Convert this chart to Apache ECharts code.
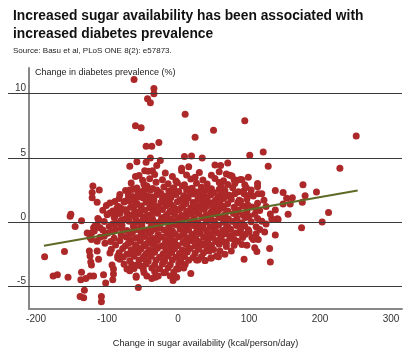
<!DOCTYPE html>
<html>
<head>
    <meta charset="utf-8" />
    <title>sugar vs diabetes</title>
    <script src="https://cdn.jsdelivr.net/npm/echarts@6/dist/echarts.min.js"></script>
</head>
<body style="margin:0">
    <div id="main" style="width:409px;height:353px;"></div>
    <script type="text/javascript">
        // axis ticks
        var xTicks = [-200, -100, 0, 100, 200, 300];
        var yTicks = [-5, 0, 5, 10];

        // fitted line end points
        var trendX = [-189, 253];
        var trendY = [-1.85, 2.46];

        // points read one by one (outside the dense cloud)
        var outerPoints = [
            [-62, 11.1], [-34, 10.4], [-34, 10.0], [-43, 9.6], [-39, 9.3], [10, 8.4], [-60, 7.5], [-52, 7.35],
            [24, 6.6], [-45, 5.9], [-37, 5.9], [-27, 6.2], [9, 5.1], [19, 5.15], [34, 5.0], [-39, 5.0],
            [-58, 4.7], [-45, 4.65], [-25, 4.8], [-68, 4.35], [-30, 4.4], [-47, 4.0], [-36, 4.0], [-60, 3.55],
            [5, 4.2], [15, 4.3],
            [-120, 2.8], [-111, 2.5], [-121, 2.3], [-121, 1.9], [-114, 1.55], [-101, 1.3], [-82, 2.15], [-89, 1.6],
            [-74, 1.65], [-68, 2.5], [-60, 2.55], [-64, 2.0], [-44, 2.8],
            [94, 7.9], [50, 7.15], [251, 6.7], [101, 5.2], [120, 5.45], [127, 4.35], [228, 4.2], [52, 4.45],
            [60, 4.4], [70, 4.6], [176, 2.9], [195, 2.35], [137, 2.45], [148, 2.3], [153, 1.85], [161, 1.9],
            [179, 2.05], [175, 1.55], [90, 3.3], [99, 3.5], [94, 2.9], [112, 3.0], [112, 2.75], [79, 3.3],
            [68, 3.75], [73, 3.65], [93, 2.2], [103, 2.5], [118, 2.2], [121, 1.7], [86, 1.7], [83, 3.25],
            [92, 2.4], [101, 2.1], [113, 2.2], [158, 1.4], [148, 1.4], [137, 0.95], [140, 0.25], [155, 0.6],
            [132, 0.25], [124, -0.15], [212, 0.75], [203, 0.0], [174, -0.45],
            [93, -2.9], [130, -3.1], [129, -2.05], [108, -2.0], [111, -2.3], [97, -1.8], [75, -2.25], [66, -2.5],
            [57, -2.7], [46, -2.8], [38, -3.0], [28, -2.95], [79, -1.35], [137, -1.0], [122, -0.77], [141, 0.2],
            [133, 0.2], [113, -1.35], [104, -1.2], [87, -0.85], [99, -0.6], [90, -1.75], [106, -1.35],
            [-188, -2.7], [-160, -2.3], [-176, -4.2], [-170, -4.1], [-155, -4.3], [-136, -3.9], [-137, -4.5], [-130, -4.4],
            [-124, -4.2], [-119, -4.2], [-132, -5.3], [-138, -5.8], [-133, -5.9], [-108, -6.2], [-145, -0.35], [-105, -4.1],
            [-102, -4.75], [-92, -4.5], [-91, -4.05], [-93, -3.35], [-91, -3.65], [-122, -3.35], [-123, -3.1], [-112, -2.9],
            [-124, -2.65], [-114, -2.25], [-125, -2.25], [-103, -1.65], [-114, -1.5], [-122, -1.35], [-122, -0.85], [-119, -0.45],
            [-104, -1.1], [-96, -2.4], [-85, -2.65], [-82, -2.9], [-68, -3.8], [-59, -4.2], [-56, -5.1], [-65, -3.3],
            [-53, -3.4], [-72, -2.5], [-60, -2.1],
            [-151, 0.6], [-152, 0.45], [-136, 0.1], [-128, -0.85], [-124, -1.2], [-118, -0.7], [-114, -0.2], [-112, 0.2],
            [-110, -0.45], [-85, -2.8], [-108, -5.8], [-59, -4.3], [-44, -4.2], [-32, -4.3], [-49, -3.65], [-72, -3.65],
            [-65, -3.4], [-7, -4.3], [-11, -4.2], [18, -4.0], [-86, 1.1], [-89, 0.45], [-96, 0.7], [-72, 0.7],
            [-2, -4.3], [-7, -4.55], [26, -2.95], [38, -3.0], [47, -2.8], [54, -2.65], [59, -2.25], [68, -1.9],
            [76, -1.25], [10, -3.3], [0, -3.65], [-18, -3.9], [-28, -4.2], [-37, -4.4]
        ];

        // dense cloud, read band by band
        var corePoints = [
            [-42, 3.95], [-18, 3.82], [5, 4.0], [30, 3.86], [58, 3.92],
            [-55, 3.62], [-33, 3.7], [-8, 3.55], [12, 3.66], [24, 3.5], [47, 3.64], [76, 3.58],
            [-50, 3.25], [-40, 3.38], [-22, 3.3], [-3, 3.2], [18, 3.36], [35, 3.27], [52, 3.4], [64, 3.22], [88, 3.32],
            [-66, 3.05], [-48, 2.94], [-31, 3.1], [-14, 2.98], [-1, 3.06], [9, 2.9], [26, 3.03], [41, 2.96], [58, 3.08], [70, 2.92], [80, 3.0],
            [-58, 2.66], [-44, 2.78], [-36, 2.62], [-20, 2.74], [-6, 2.68], [6, 2.8], [20, 2.64], [33, 2.72], [47, 2.6], [61, 2.76], [77, 2.67], [96, 2.7],
            [-74, 2.45], [-52, 2.36], [-39, 2.48], [-27, 2.33], [-13, 2.42], [1, 2.38], [12, 2.5], [27, 2.35], [38, 2.44], [50, 2.3], [66, 2.46], [85, 2.37],
            [-70, 2.05], [-56, 2.16], [-43, 2.02], [-30, 2.12], [-18, 2.0], [-3, 2.14], [8, 2.06], [22, 2.18], [35, 2.03], [46, 2.11], [56, 1.98], [72, 2.09], [80, 2.2], [106, 2.04],
            [-83, 1.84], [-62, 1.76], [-49, 1.88], [-34, 1.72], [-22, 1.82], [-10, 1.9], [3, 1.74], [14, 1.85], [28, 1.78], [40, 1.86], [53, 1.7], [64, 1.83], [75, 1.77], [97, 1.8],
            [-96, 1.48], [-76, 1.56], [-58, 1.44], [-45, 1.55], [-36, 1.42], [-24, 1.52], [-12, 1.46], [-1, 1.58], [11, 1.45], [21, 1.53], [33, 1.4], [45, 1.5], [59, 1.57], [70, 1.43], [84, 1.51], [112, 1.47],
            [-84, 1.22], [-67, 1.15], [-52, 1.26], [-40, 1.12], [-28, 1.2], [-17, 1.28], [-6, 1.14], [7, 1.24], [18, 1.1], [30, 1.19], [41, 1.27], [50, 1.13], [63, 1.23], [79, 1.16], [91, 1.25], [104, 1.18], [124, 1.21],
            [-106, 0.92], [-92, 0.86], [-74, 0.96], [-61, 0.84], [-47, 0.93], [-34, 0.88], [-22, 0.98], [-11, 0.85], [0, 0.94], [12, 0.82], [25, 0.9], [37, 0.97], [47, 0.83], [57, 0.91], [70, 0.87], [85, 0.95], [97, 0.84], [115, 0.9],
            [-100, 0.58], [-82, 0.66], [-66, 0.54], [-54, 0.62], [-40, 0.56], [-29, 0.68], [-16, 0.57], [-5, 0.64], [5, 0.52], [17, 0.61], [29, 0.67], [42, 0.55], [54, 0.63], [66, 0.58], [78, 0.66], [92, 0.53], [108, 0.6], [130, 0.62],
            [-113, 0.28], [-90, 0.35], [-75, 0.24], [-60, 0.32], [-48, 0.38], [-36, 0.26], [-23, 0.33], [-10, 0.22], [1, 0.31], [11, 0.37], [23, 0.25], [34, 0.34], [46, 0.27], [58, 0.36], [71, 0.23], [83, 0.3], [95, 0.35], [112, 0.28],
            [-104, 0.04], [-86, -0.05], [-69, 0.06], [-55, -0.03], [-42, 0.08], [-30, -0.06], [-18, 0.02], [-6, 0.09], [6, -0.04], [17, 0.05], [28, -0.08], [40, 0.03], [51, 0.07], [64, -0.02], [77, 0.05], [90, -0.06], [103, 0.02], [118, 0.06],
            [-117, -0.28], [-97, -0.35], [-79, -0.24], [-63, -0.32], [-51, -0.22], [-38, -0.37], [-26, -0.27], [-13, -0.33], [-1, -0.23], [10, -0.36], [22, -0.26], [35, -0.31], [45, -0.38], [57, -0.25], [70, -0.34], [82, -0.27], [94, -0.3], [110, -0.36],
            [-106, -0.62], [-88, -0.55], [-72, -0.66], [-58, -0.57], [-45, -0.64], [-33, -0.53], [-20, -0.61], [-8, -0.68], [3, -0.56], [15, -0.63], [27, -0.54], [40, -0.67], [52, -0.58], [63, -0.65], [74, -0.55], [88, -0.62], [115, -0.58],
            [-99, -0.88], [-80, -0.95], [-66, -0.86], [-52, -0.93], [-40, -0.84], [-28, -0.97], [-15, -0.87], [-4, -0.92], [8, -0.85], [20, -0.96], [31, -0.89], [43, -0.94], [56, -0.83], [68, -0.91], [82, -0.86], [95, -0.95], [110, -0.9],
            [-110, -1.18], [-90, -1.25], [-73, -1.16], [-59, -1.23], [-47, -1.13], [-35, -1.27], [-22, -1.19], [-10, -1.24], [1, -1.14], [13, -1.22], [25, -1.28], [36, -1.17], [49, -1.21], [61, -1.15], [73, -1.26], [91, -1.2],
            [-95, -1.52], [-82, -1.45], [-67, -1.55], [-53, -1.47], [-41, -1.57], [-29, -1.44], [-17, -1.53], [-5, -1.48], [7, -1.58], [18, -1.46], [30, -1.54], [42, -1.43], [53, -1.51], [66, -1.56], [84, -1.49],
            [-88, -1.78], [-74, -1.85], [-60, -1.76], [-48, -1.84], [-35, -1.74], [-23, -1.87], [-11, -1.77], [0, -1.83], [12, -1.75], [24, -1.86], [35, -1.79], [47, -1.82], [58, -1.73], [79, -1.8],
            [-94, -2.12], [-78, -2.05], [-66, -2.15], [-52, -2.07], [-41, -2.16], [-29, -2.04], [-17, -2.13], [-5, -2.08], [6, -2.17], [17, -2.06], [29, -2.11], [41, -2.03], [50, -2.14],
            [-83, -2.38], [-68, -2.45], [-56, -2.36], [-44, -2.43], [-33, -2.35], [-21, -2.47], [-9, -2.37], [2, -2.44], [13, -2.34], [24, -2.42], [36, -2.39],
            [-77, -2.72], [-62, -2.66], [-49, -2.75], [-38, -2.67], [-26, -2.74], [-14, -2.65], [-3, -2.73], [9, -2.68], [21, -2.76], [33, -2.7],
            [-68, -3.02], [-55, -2.95], [-42, -3.06], [-31, -2.97], [-19, -3.04], [-8, -2.96], [4, -3.05], [15, -2.98],
            [-76, -3.28], [-58, -3.34], [-45, -3.26], [-33, -3.35], [-22, -3.27], [-11, -3.32], [1, -3.25],
            [-62, -3.62], [-37, -3.57], [-26, -3.64], [-14, -3.56], [-2, -3.63], [8, -3.58],
            [-48, -3.92], [-33, -3.86], [-20, -3.95], [-6, -3.88]
        ];

        // extra points filling the gaps in the thickest part of the cloud
        var coreFill = [
            [-64, 2.55], [-47, 2.55], [-30, 2.5], [-8, 2.55], [16, 2.57], [42, 2.52], [58, 2.55],
            [-48, 2.25], [-24, 2.22], [-8, 2.28], [18, 2.25], [30, 2.27], [60, 2.24],
            [-55, 1.95], [-37, 1.96], [-12, 1.95], [14, 1.97], [41, 1.94], [66, 1.96],
            [-68, 1.65], [-42, 1.66], [-17, 1.64], [6, 1.66], [36, 1.63], [52, 1.62], [88, 1.65],
            [-60, 1.35], [-34, 1.33], [-10, 1.36], [24, 1.34], [57, 1.35], [98, 1.35],
            [-80, 1.05], [-52, 1.06], [-28, 1.03], [3, 1.05], [35, 1.05], [64, 1.07], [110, 1.05],
            [-88, 0.75], [-58, 0.77], [-35, 0.74], [-12, 0.76], [22, 0.74], [48, 0.77], [84, 0.74],
            [-70, 0.45], [-44, 0.46], [-18, 0.43], [6, 0.45], [38, 0.46], [64, 0.44], [100, 0.46],
            [-80, 0.15], [-50, 0.16], [-24, 0.13], [-2, 0.15], [22, 0.17], [46, 0.14], [70, 0.15],
            [-92, -0.15], [-62, -0.16], [-34, -0.14], [-6, -0.17], [16, -0.15], [52, -0.14], [86, -0.16],
            [-80, -0.45], [-52, -0.46], [-26, -0.44], [8, -0.47], [33, -0.45], [68, -0.46],
            [-92, -0.75], [-64, -0.76], [-38, -0.74], [-12, -0.77], [26, -0.75], [50, -0.74], [100, -0.76],
            [-80, -1.05], [-52, -1.06], [-28, -1.04], [6, -1.05], [42, -1.07], [76, -1.05],
            [-66, -1.35], [-40, -1.36], [-14, -1.34], [24, -1.36], [58, -1.35],
            [-70, -1.65], [-44, -1.66], [-18, -1.64], [10, -1.65], [38, -1.66], [68, -1.64],
            [-58, -1.95], [-30, -1.96], [-4, -1.94], [28, -1.95],
            [-62, -2.25], [-36, -2.26], [-12, -2.24], [12, -2.25], [44, -2.26],
            [-46, -2.55], [-18, -2.56], [8, -2.54],
            [-48, -2.85], [-22, -2.86], [2, -2.84]
        ];

        var scatterData = outerPoints.concat(corePoints, coreFill);

        var gridColor = '#3a3a3a';
        var font = 'Liberation Sans, Arial, sans-serif';

        var myChart = echarts.init(document.getElementById('main'));
        var option = {
            animation: false,
            backgroundColor: '#fff',
            title: [
                {
                    text: 'Increased sugar availability has been associated with\nincreased diabetes prevalence',
                    left: 8,
                    top: 2,
                    textStyle: { fontFamily: font, fontSize: 13.8, fontWeight: 'bold', color: '#111', lineHeight: 18 }
                },
                {
                    text: 'Source: Basu et al, PLoS ONE 8(2): e57873.',
                    left: 8,
                    top: 42,
                    textStyle: { fontFamily: font, fontSize: 8, fontWeight: 'normal', color: '#222' }
                }
            ],
            grid: { left: 29, right: 7, top: 68, bottom: 41 },
            xAxis: {
                type: 'value',
                min: -210,
                max: 315.5,
                name: 'Change in sugar availability (kcal/person/day)',
                nameLocation: 'middle',
                nameGap: 30,
                nameTextStyle: { fontFamily: font, fontSize: 9.2, color: '#222', padding: [0, 20, 0, 0] },
                axisLine: { onZero: false, lineStyle: { color: '#888', width: 2 } },
                axisTick: { show: false },
                splitLine: { show: false },
                axisLabel: { customValues: xTicks, fontFamily: font, fontSize: 10, color: '#333', margin: 5 }
            },
            yAxis: {
                type: 'value',
                min: -6.77,
                max: 12,
                name: 'Change in diabetes prevalence (%)',
                nameLocation: 'end',
                nameGap: -5,
                nameTextStyle: { fontFamily: font, fontSize: 9, color: '#222', align: 'left', verticalAlign: 'middle', padding: [0, 0, 0, 6] },
                axisLine: { onZero: false, lineStyle: { color: '#888', width: 2 } },
                axisTick: { show: true, customValues: yTicks, length: 21, lineStyle: { color: gridColor, width: 1 } },
                splitLine: { show: false },
                axisLabel: { customValues: yTicks, fontFamily: font, fontSize: 10, color: '#333', margin: 3, verticalAlign: 'bottom' }
            },
            series: [
                {
                    type: 'line',
                    data: [],
                    z: 1,
                    markLine: {
                        silent: true,
                        symbol: 'none',
                        label: { show: false },
                        lineStyle: { color: gridColor, width: 1, type: 'solid' },
                        data: yTicks.map(function (v) { return { yAxis: v }; })
                    }
                },
                {
                    type: 'scatter',
                    z: 2,
                    symbolSize: 7,
                    itemStyle: { color: '#ad2828', opacity: 1 },
                    data: scatterData
                },
                {
                    type: 'line',
                    z: 3,
                    showSymbol: false,
                    lineStyle: { color: '#5e6b26', width: 2 },
                    data: [[trendX[0], trendY[0]], [trendX[1], trendY[1]]]
                }
            ]
        };
        myChart.setOption(option);
    </script>
</body>
</html>
